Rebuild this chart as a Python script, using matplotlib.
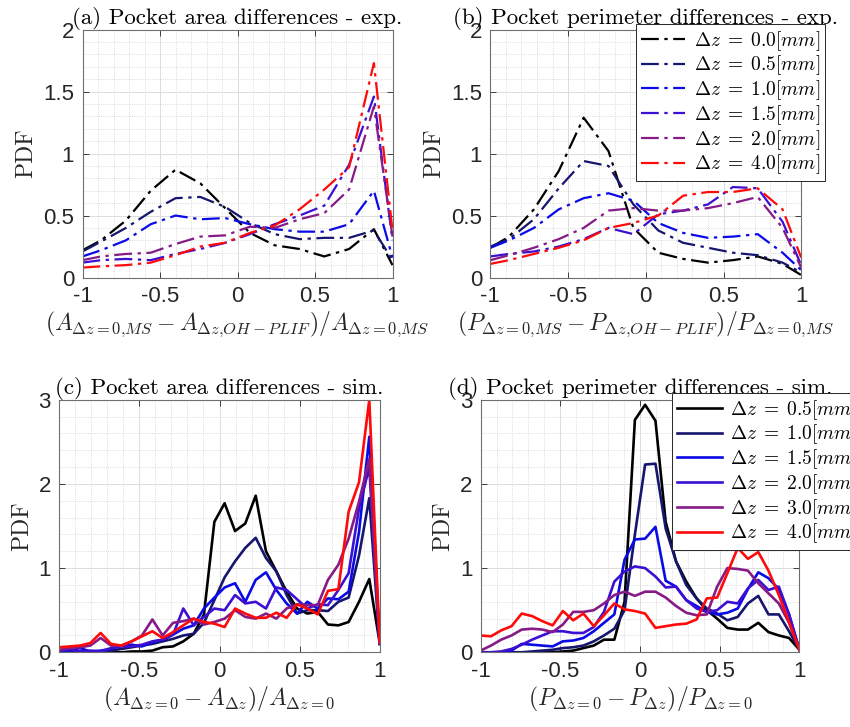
import matplotlib
matplotlib.use("Agg")
import matplotlib.pyplot as plt
from matplotlib.ticker import MultipleLocator

plt.rcParams['mathtext.fontset'] = 'cm'
plt.rcParams['font.family'] = ['Liberation Sans', 'DejaVu Sans']

# ---------------- data ----------------
x_exp = [-1.00, -0.88, -0.72, -0.56, -0.40, -0.24, -0.08, 0.08, 0.24, 0.40, 0.56, 0.72, 0.88, 1.00]

labels_exp = [r'$\Delta z\;=\;0.0[mm]$', r'$\Delta z\;=\;0.5[mm]$', r'$\Delta z\;=\;1.0[mm]$',
              r'$\Delta z\;=\;1.5[mm]$', r'$\Delta z\;=\;2.0[mm]$', r'$\Delta z\;=\;4.0[mm]$']

a_dz00 = [0.22, 0.30, 0.46, 0.70, 0.87, 0.76, 0.56, 0.36, 0.26, 0.23, 0.17, 0.23, 0.39, 0.10]
a_dz05 = [0.21, 0.29, 0.40, 0.53, 0.64, 0.65, 0.57, 0.44, 0.35, 0.31, 0.32, 0.32, 0.38, 0.14]
a_dz10 = [0.17, 0.22, 0.30, 0.43, 0.50, 0.47, 0.48, 0.43, 0.39, 0.37, 0.37, 0.43, 0.70, 0.16]
a_dz15 = [0.12, 0.14, 0.15, 0.14, 0.19, 0.23, 0.28, 0.35, 0.43, 0.50, 0.58, 0.91, 1.46, 0.30]
a_dz20 = [0.14, 0.17, 0.19, 0.20, 0.27, 0.33, 0.34, 0.41, 0.40, 0.47, 0.52, 0.71, 1.38, 0.33]
a_dz40 = [0.08, 0.09, 0.10, 0.12, 0.18, 0.25, 0.28, 0.36, 0.42, 0.55, 0.71, 0.89, 1.73, 0.38]

b_dz00 = [0.24, 0.33, 0.55, 0.86, 1.29, 1.02, 0.40, 0.20, 0.15, 0.12, 0.14, 0.17, 0.11, 0.02]
b_dz05 = [0.25, 0.31, 0.47, 0.72, 0.94, 0.90, 0.59, 0.38, 0.28, 0.24, 0.20, 0.18, 0.12, 0.04]
b_dz10 = [0.24, 0.30, 0.40, 0.55, 0.64, 0.68, 0.62, 0.44, 0.36, 0.32, 0.33, 0.35, 0.20, 0.06]
b_dz15 = [0.17, 0.19, 0.21, 0.25, 0.31, 0.40, 0.35, 0.51, 0.54, 0.59, 0.73, 0.72, 0.45, 0.10]
b_dz20 = [0.14, 0.18, 0.24, 0.31, 0.40, 0.54, 0.56, 0.54, 0.54, 0.56, 0.60, 0.65, 0.40, 0.08]
b_dz40 = [0.11, 0.14, 0.19, 0.24, 0.30, 0.40, 0.44, 0.50, 0.66, 0.69, 0.69, 0.72, 0.55, 0.16]

x_sim = [-1.000, -0.935, -0.871, -0.806, -0.742, -0.677, -0.613, -0.548, -0.484, -0.419,
         -0.355, -0.290, -0.226, -0.161, -0.097, -0.032, 0.032, 0.097, 0.161, 0.226,
         0.290, 0.355, 0.419, 0.484, 0.548, 0.613, 0.677, 0.742, 0.806, 0.871, 0.935, 1.000]

labels_sim = [r'$\Delta z\;=\;0.5[mm]$', r'$\Delta z\;=\;1.0[mm]$', r'$\Delta z\;=\;1.5[mm]$',
              r'$\Delta z\;=\;2.0[mm]$', r'$\Delta z\;=\;3.0[mm]$', r'$\Delta z\;=\;4.0[mm]$']

c_dz05 = [0.00, 0.00, 0.00, 0.00, 0.00, 0.00, 0.00, 0.01, 0.01, 0.02, 0.06, 0.07, 0.13, 0.22, 0.45, 1.55,
          1.77, 1.44, 1.53, 1.86, 1.20, 0.96, 0.72, 0.52, 0.46, 0.48, 0.33, 0.32, 0.36, 0.60, 0.87, 0.11]
c_dz10 = [0.00, 0.00, 0.01, 0.01, 0.00, 0.02, 0.04, 0.06, 0.08, 0.10, 0.13, 0.16, 0.20, 0.22, 0.35, 0.62,
          0.89, 1.08, 1.24, 1.36, 1.12, 0.96, 0.68, 0.46, 0.50, 0.50, 0.49, 0.60, 0.65, 1.15, 1.83, 0.10]
c_dz15 = [0.01, 0.02, 0.05, 0.01, 0.02, 0.04, 0.08, 0.09, 0.07, 0.12, 0.15, 0.21, 0.28, 0.32, 0.52, 0.65,
          0.77, 0.82, 0.60, 0.86, 0.95, 0.74, 0.58, 0.46, 0.60, 0.52, 0.64, 0.63, 0.72, 1.43, 2.56, 0.10]
c_dz20 = [0.01, 0.04, 0.01, 0.02, 0.01, 0.05, 0.07, 0.07, 0.09, 0.13, 0.15, 0.21, 0.52, 0.32, 0.42, 0.52,
          0.50, 0.68, 0.58, 0.60, 0.52, 0.77, 0.74, 0.63, 0.52, 0.57, 0.56, 0.74, 0.94, 1.71, 2.20, 0.10]
c_dz30 = [0.03, 0.05, 0.06, 0.08, 0.17, 0.08, 0.08, 0.13, 0.20, 0.39, 0.20, 0.35, 0.37, 0.40, 0.33, 0.36,
          0.40, 0.50, 0.42, 0.40, 0.46, 0.40, 0.52, 0.57, 0.56, 0.56, 0.86, 1.04, 1.35, 1.79, 2.30, 0.10]
c_dz40 = [0.06, 0.07, 0.08, 0.11, 0.23, 0.10, 0.08, 0.13, 0.19, 0.25, 0.17, 0.24, 0.32, 0.40, 0.36, 0.34,
          0.30, 0.52, 0.46, 0.41, 0.41, 0.47, 0.41, 0.57, 0.52, 0.45, 0.73, 0.75, 1.67, 2.02, 3.00, 0.12]

d_dz05 = [0.00, 0.00, 0.00, 0.00, 0.00, 0.00, 0.00, 0.00, 0.01, 0.02, 0.05, 0.08, 0.15, 0.15, 0.60, 2.76,
          2.94, 2.75, 1.55, 1.08, 0.84, 0.64, 0.50, 0.40, 0.29, 0.27, 0.27, 0.35, 0.24, 0.20, 0.17, 0.03]
d_dz10 = [0.00, 0.00, 0.00, 0.00, 0.00, 0.01, 0.02, 0.03, 0.05, 0.06, 0.08, 0.13, 0.20, 0.28, 0.50, 1.40,
          2.23, 2.24, 1.47, 1.08, 0.80, 0.64, 0.52, 0.46, 0.38, 0.42, 0.58, 0.67, 0.45, 0.45, 0.25, 0.03]
d_dz15 = [0.00, 0.00, 0.00, 0.02, 0.10, 0.09, 0.08, 0.07, 0.13, 0.14, 0.17, 0.25, 0.35, 0.45, 1.10, 1.34,
          1.35, 1.49, 0.85, 0.78, 0.62, 0.55, 0.48, 0.45, 0.47, 0.52, 0.75, 0.95, 0.88, 0.75, 0.45, 0.03]
d_dz20 = [0.00, 0.00, 0.01, 0.04, 0.09, 0.15, 0.20, 0.25, 0.25, 0.23, 0.23, 0.30, 0.48, 0.84, 0.96, 1.02,
          1.00, 0.90, 0.77, 0.78, 0.62, 0.52, 0.48, 0.50, 0.60, 0.58, 0.76, 0.86, 0.74, 0.78, 0.45, 0.03]
d_dz30 = [0.02, 0.08, 0.15, 0.20, 0.27, 0.28, 0.27, 0.24, 0.33, 0.48, 0.48, 0.50, 0.58, 0.68, 0.72, 0.67,
          0.72, 0.72, 0.65, 0.55, 0.47, 0.44, 0.45, 0.78, 1.00, 0.99, 0.97, 0.82, 0.70, 0.58, 0.35, 0.03]
d_dz40 = [0.20, 0.19, 0.26, 0.31, 0.46, 0.43, 0.37, 0.32, 0.49, 0.38, 0.46, 0.31, 0.44, 0.58, 0.51, 0.49,
          0.46, 0.29, 0.31, 0.33, 0.34, 0.39, 0.64, 0.65, 0.94, 1.24, 1.11, 1.19, 0.97, 0.68, 0.36, 0.03]

colors = ['#000000', '#16166e', '#0a0ae6', '#3c0fd2', '#861a86', '#ff0a0a']

titles = ['(a) Pocket area differences - exp.', '(b) Pocket perimeter differences - exp.',
          '(c) Pocket area differences - sim.', '(d) Pocket perimeter differences - sim.']
xlabels = [r'$(A_{\Delta z=0{,}MS}-A_{\Delta z{,}OH-PLIF})/A_{\Delta z=0{,}MS}$',
           r'$(P_{\Delta z=0{,}MS}-P_{\Delta z{,}OH-PLIF})/P_{\Delta z=0{,}MS}$',
           r'$(A_{\Delta z=0}-A_{\Delta z})/A_{\Delta z=0}$',
           r'$(P_{\Delta z=0}-P_{\Delta z})/P_{\Delta z=0}$']

# ---------------- figure ----------------
W, H = 850, 727
fig = plt.figure(figsize=(W / 100, H / 100), dpi=100)

def rect(l, r, t, b):
    return [l / W, 1 - b / H, (r - l) / W, (b - t) / H]

axa = fig.add_axes(rect(82.5, 392.5, 29.7, 277.5))
axb = fig.add_axes(rect(490.4, 801.2, 29.7, 277.5))
axc = fig.add_axes(rect(59.3, 379.7, 399.7, 652.3))
axd = fig.add_axes(rect(480.6, 799.4, 399.7, 652.3))

dashdot = (0, (8, 2.5, 1.5, 2.5))
tick_col = '#262626'

def style(ax, ymax, ymajor, yminor, title, xlabel):
    ax.set_xlim(-1, 1)
    ax.set_ylim(0, ymax)
    ax.xaxis.set_major_locator(MultipleLocator(0.5))
    ax.xaxis.set_minor_locator(MultipleLocator(0.1))
    ax.yaxis.set_major_locator(MultipleLocator(ymajor))
    ax.yaxis.set_minor_locator(MultipleLocator(yminor))
    ax.grid(True, which='major', color='#dcdcdc', lw=0.7, ls='-')
    ax.grid(True, which='minor', color='#cfcfcf', lw=0.6, ls=':')
    ax.set_axisbelow(True)
    ax.tick_params(which='major', direction='in', length=4, width=0.6, color=tick_col,
                   labelsize=16, labelcolor=tick_col, top=True, right=True, pad=6)
    ax.tick_params(which='minor', length=0)
    ax.xaxis.set_major_formatter(plt.FuncFormatter(lambda v, p: '%g' % v))
    ax.yaxis.set_major_formatter(plt.FuncFormatter(lambda v, p: '%g' % v))
    for s in ax.spines.values():
        s.set_color('#6e6e6e')
        s.set_linewidth(0.8)
    ax.set_title(title, fontsize=16.5, family='cmr10', pad=4)
    ax.set_xlabel(xlabel, fontsize=17, color='#262626', labelpad=2)
    ax.set_ylabel('PDF', fontsize=17, family='cmr10', color='#262626', labelpad=4)

series_a = [a_dz00, a_dz05, a_dz10, a_dz15, a_dz20, a_dz40]
series_b = [b_dz00, b_dz05, b_dz10, b_dz15, b_dz20, b_dz40]
series_c = [c_dz05, c_dz10, c_dz15, c_dz20, c_dz30, c_dz40]
series_d = [d_dz05, d_dz10, d_dz15, d_dz20, d_dz30, d_dz40]

for ys, col, lab in zip(series_a, colors, labels_exp):
    axa.plot(x_exp, ys, color=col, lw=1.6, ls=dashdot, label=lab)
for ys, col, lab in zip(series_b, colors, labels_exp):
    axb.plot(x_exp, ys, color=col, lw=1.6, ls=dashdot, label=lab)
for ys, col, lab in zip(series_c, colors, labels_sim):
    axc.plot(x_sim, ys, color=col, lw=1.9, label=lab)
for ys, col, lab in zip(series_d, colors, labels_sim):
    axd.plot(x_sim, ys, color=col, lw=1.9, label=lab)

style(axa, 2, 0.5, 0.1, titles[0], xlabels[0])
style(axb, 2, 0.5, 0.1, titles[1], xlabels[1])
style(axc, 3, 1, 0.2, titles[2], xlabels[2])
style(axd, 3, 1, 0.2, titles[3], xlabels[3])

def legend(ax, anchor):
    lg = ax.legend(loc='upper left', bbox_to_anchor=anchor, bbox_transform=fig.transFigure,
                   fontsize=14, frameon=True, fancybox=False, framealpha=1,
                   edgecolor='#262626', borderpad=0.25, labelspacing=0.05,
                   handlelength=2.3, handletextpad=0.45, borderaxespad=0)
    lg.get_frame().set_linewidth(0.7)
    return lg

legend(axb, (635.7 / W, 1 - 24 / H))
legend(axd, (672 / W, 1 - 393 / H))

fig.savefig('out.png', dpi=100)
